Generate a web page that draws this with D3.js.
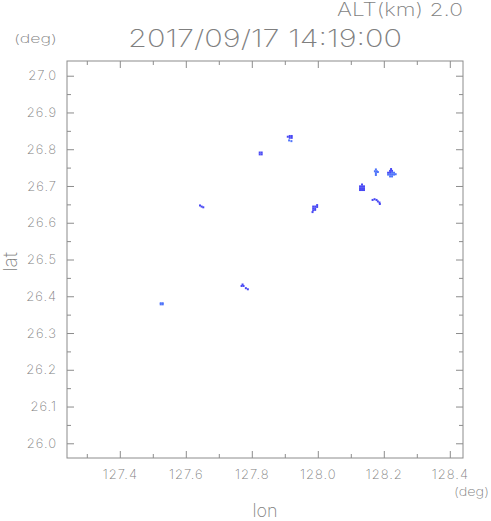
<!DOCTYPE html>
<html><head><meta charset="utf-8">
<script src="https://cdn.jsdelivr.net/npm/d3@7"></script>
<style>
html,body{margin:0;padding:0;background:#fff;}
svg text{font-family:Inter,"Noto Sans",sans-serif;font-weight:200;fill:#7f7f7f;}
</style></head>
<body><svg id="c" width="491" height="521"></svg>
<script>
// ---- data ----
const titleText = "2017/09/17 14:19:00";
const altText = "ALT(km) 2.0";
const xTicks = [127.4, 127.6, 127.8, 128.0, 128.2, 128.4];
const xMinorTicks = [127.3, 127.5, 127.7, 127.9, 128.1, 128.3];
const yTicks = [26.0, 26.1, 26.2, 26.3, 26.4, 26.5, 26.6, 26.7, 26.8, 26.9, 27.0];
const yMinorTicks = [26.05, 26.15, 26.25, 26.35, 26.45, 26.55, 26.65, 26.75, 26.85, 26.95];
const lonDomain = [127.24, 128.44];
const latDomain = [25.96, 27.04];
// radar echo cells: [lon, lat, level]
const cellLon = 0.006, cellLat = 0.0055;
const echoCells = [
  // near 127.915, 26.832
  [127.909,26.834,1],[127.915,26.836,1],[127.921,26.836,1],[127.915,26.831,1],[127.921,26.831,1],
  [127.913,26.824,2],[127.920,26.822,2],
  // 127.827, 26.789
  [127.824,26.791,1],[127.830,26.791,1],[127.824,26.786,1],[127.830,26.786,1],
  // 127.646, 26.644
  [127.643,26.647,1],[127.648,26.644,1],[127.653,26.642,1],
  // 127.991, 26.640
  [127.998,26.648,1],[127.986,26.644,1],[127.992,26.644,1],[127.998,26.643,1],
  [127.986,26.639,1],[127.992,26.639,1],[127.986,26.634,1],[127.992,26.635,1],[127.984,26.629,1],
  // 128.176, 26.738
  [128.176,26.745,2],[128.173,26.740,2],[128.179,26.740,2],[128.182,26.738,2],
  [128.176,26.735,2],[128.176,26.730,2],
  // 128.222, 26.736
  [128.222,26.746,1],[128.219,26.741,1],[128.225,26.741,1],
  [128.213,26.736,1],[128.219,26.736,1],[128.225,26.736,2],[128.231,26.736,2],
  [128.213,26.731,2],[128.219,26.731,2],[128.225,26.731,2],[128.231,26.731,2],[128.236,26.732,2],
  [128.219,26.726,2],[128.225,26.726,2],
  // 128.134, 26.695
  [128.134,26.704,1],[128.128,26.699,1],[128.134,26.699,1],[128.140,26.699,1],
  [128.128,26.694,1],[128.134,26.694,1],[128.140,26.694,1],
  [128.128,26.689,1],[128.134,26.689,1],[128.140,26.689,1],
  // arc 128.17-128.19, 26.66
  [128.166,26.662,1],[128.172,26.664,1],[128.178,26.662,1],[128.182,26.658,1],[128.187,26.655,1],[128.188,26.651,1],
  // 127.527, 26.380
  [127.524,26.381,2],[127.530,26.381,2],[127.524,26.378,2],[127.530,26.378,2],
  // 127.77, 26.43
  [127.772,26.432,1],[127.769,26.428,1],[127.775,26.428,1],
  [127.782,26.422,1],[127.788,26.419,1]
];
const levelColors = ["#4848f4", "#4f74fa"];

// ---- drawing ----
const svg = d3.select("#c");
const L = 67, R = 463, T = 61, B = 458;
const x = d3.scaleLinear().domain(lonDomain).range([L, R]);
const y = d3.scaleLinear().domain(latDomain).range([B, T]);
const grey = "#8c8c8c";
const tf = "Inter, 'Noto Sans', sans-serif";

// echo cells
svg.append("g").selectAll("rect").data(echoCells).join("rect")
  .attr("x", d => x(d[0] - cellLon/2))
  .attr("y", d => y(d[1] + cellLat/2))
  .attr("width", d => x(d[0] + cellLon/2) - x(d[0] - cellLon/2))
  .attr("height", d => y(d[1] - cellLat/2) - y(d[1] + cellLat/2))
  .attr("fill", d => levelColors[d[2]-1]);

function styleAxis(g){
  g.select(".domain").remove();
  g.selectAll(".tick line").attr("stroke", grey);
}
function styleLabels(g){
  g.selectAll("text").attr("font-size", 13).attr("fill", "#7f7f7f")
    .style("font-family", tf).style("font-weight", 200).style("letter-spacing", "1px");
}
// bottom axis
const gb = svg.append("g").attr("transform", `translate(0,${B})`)
  .call(d3.axisBottom(x).tickValues(xTicks).tickSize(-7).tickFormat(d3.format(".1f")).tickPadding(12));
styleAxis(gb); styleLabels(gb);
svg.append("g").attr("transform", `translate(0,${B})`)
  .call(d3.axisBottom(x).tickValues(xMinorTicks).tickSize(-4).tickFormat("")).call(styleAxis);
// top axis
svg.append("g").attr("transform", `translate(0,${T})`)
  .call(d3.axisTop(x).tickValues(xTicks).tickSize(-7).tickFormat("")).call(styleAxis);
svg.append("g").attr("transform", `translate(0,${T})`)
  .call(d3.axisTop(x).tickValues(xMinorTicks).tickSize(-4).tickFormat("")).call(styleAxis);
// left axis
const gl = svg.append("g").attr("transform", `translate(${L},0)`)
  .call(d3.axisLeft(y).tickValues(yTicks).tickSize(-7).tickFormat(d3.format(".1f")).tickPadding(10));
styleAxis(gl); styleLabels(gl);
svg.append("g").attr("transform", `translate(${L},0)`)
  .call(d3.axisLeft(y).tickValues(yMinorTicks).tickSize(-4).tickFormat("")).call(styleAxis);
// right axis
svg.append("g").attr("transform", `translate(${R},0)`)
  .call(d3.axisRight(y).tickValues(yTicks).tickSize(-7).tickFormat("")).call(styleAxis);
svg.append("g").attr("transform", `translate(${R},0)`)
  .call(d3.axisRight(y).tickValues(yMinorTicks).tickSize(-4).tickFormat("")).call(styleAxis);

// frame
svg.append("rect").attr("x", L).attr("y", T).attr("width", R-L).attr("height", B-T)
  .attr("fill", "none").attr("stroke", grey).attr("stroke-width", 1);

// texts
svg.append("text").attr("x", 128).attr("y", 47).attr("font-size", 24)
  .attr("textLength", 274).attr("lengthAdjust","spacingAndGlyphs").text(titleText);
svg.append("text").attr("x", 337).attr("y", 16).attr("font-size", 18)
  .attr("textLength", 126).attr("lengthAdjust","spacingAndGlyphs").text(altText);
svg.append("text").attr("x", 14).attr("y", 43).attr("font-size", 12)
  .attr("textLength", 43).attr("lengthAdjust","spacingAndGlyphs").text("(deg)");
svg.append("text").attr("x", 454).attr("y", 496).attr("font-size", 12)
  .attr("textLength", 35).attr("lengthAdjust","spacingAndGlyphs").text("(deg)");
svg.append("text").attr("x", 265).attr("y", 517).attr("font-size", 18)
  .attr("text-anchor","middle").text("lon");
svg.append("text").attr("transform", "translate(17,262) rotate(-90)").attr("font-size", 19)
  .attr("text-anchor","middle").text("lat");
</script></body></html>
